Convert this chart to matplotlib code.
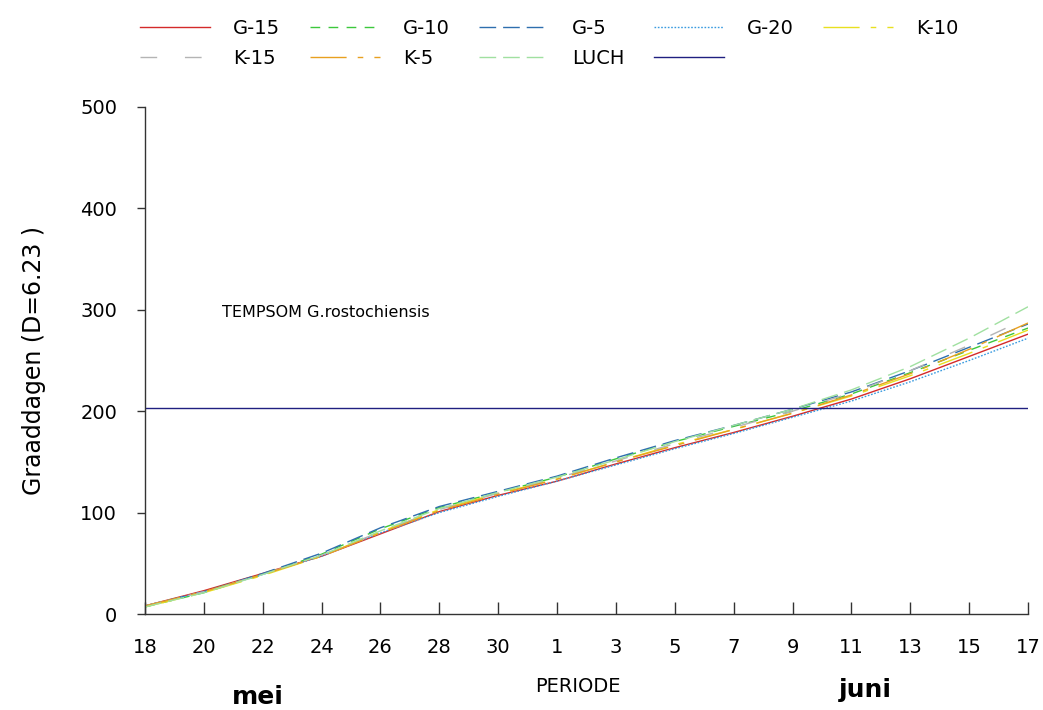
import matplotlib
matplotlib.use("Agg")
import matplotlib.pyplot as plt

plt.rcParams['font.family'] = ['DejaVu Sans']

# Days since 18 May (every second day)
days = [0, 2, 4, 6, 8, 10, 12, 14, 16, 18, 20, 22, 24, 26, 28, 30]
tick_labels = ['18', '20', '22', '24', '26', '28', '30', '1', '3', '5', '7', '9', '11', '13', '15', '17']

g15 = [8, 23, 40, 57, 79, 101, 117, 131, 148, 164, 179, 195, 212, 232, 254, 276]
g10 = [7, 21, 39, 59, 84, 105, 120, 135, 153, 170, 185, 200, 217, 238, 260, 282]
g5 = [8, 22, 40, 60, 85, 106, 121, 136, 154, 171, 186, 202, 219, 240, 263, 286]
g20 = [8, 22, 39, 57, 80, 100, 116, 131, 147, 163, 178, 194, 210, 229, 250, 272]
k10 = [7, 21, 38, 57, 81, 103, 119, 133, 150, 167, 182, 198, 215, 235, 257, 280]
k15 = [8, 22, 39, 58, 81, 103, 119, 134, 151, 168, 184, 200, 218, 240, 265, 292]
k5 = [8, 22, 39, 57, 80, 102, 118, 133, 150, 166, 182, 198, 216, 237, 261, 287]
luch = [7, 21, 39, 58, 82, 104, 120, 135, 152, 170, 186, 202, 221, 244, 272, 303]
threshold = 203

series = [
    ('G-15', g15, '#d42a2a', '-', None),
    ('G-10', g10, '#3cc83c', '--', (7, 6)),
    ('G-5', g5, '#2e6fae', '--', (12, 5)),
    ('G-20', g20, '#3a9be0', ':', (1.2, 1.2)),
    ('K-10', k10, '#e8e020', '--', (26, 8, 4, 8)),
    ('K-15', k15, '#b4b4b4', '--', (12, 20)),
    ('K-5', k5, '#e8a020', '--', (26, 8, 4, 8)),
    ('LUCH', luch, '#a0e0a0', '--', (12, 5)),
]

fig = plt.figure(figsize=(10.43, 7.10), dpi=100)
ax = fig.add_axes([145/1043, 96/710, 883/1043, 507/710])

handles = {}
for name, vals, col, ls, dash in series:
    ln, = ax.plot(days, vals, color=col, lw=1.0, linestyle=ls)
    if dash is not None:
        ln.set_dashes(dash)
    handles[name] = ln

hl, = ax.plot([days[0], days[-1]], [threshold, threshold], color='#202080', lw=1.0)

ax.text(2.6, 297, 'TEMPSOM G.rostochiensis', fontsize=11.5, va='center', ha='left')

ax.set_xlim(0, 30)
ax.set_ylim(0, 500)
ax.set_xticks(days)
ax.set_xticklabels(tick_labels, fontsize=14)
ax.set_yticks([0, 100, 200, 300, 400, 500])
ax.set_yticklabels(['0', '100', '200', '300', '400', '500'], fontsize=14)
ax.tick_params(axis='x', direction='in', length=9, pad=17, color='#333333', width=1)
ax.tick_params(axis='y', direction='out', length=6, pad=14, color='#333333', width=1)
for s in ['top', 'right']:
    ax.spines[s].set_visible(False)
for s in ['left', 'bottom']:
    ax.spines[s].set_color('#333333')
    ax.spines[s].set_linewidth(1.0)

ax.set_ylabel('Graaddagen (D=6.23 )', fontsize=17)
ax.yaxis.set_label_coords(-0.112, 0.5)

fig.text(578/1043, 1 - 687/710, 'PERIODE', fontsize=14, ha='center', va='center')
fig.text(258/1043, 1 - 697/710, 'mei', fontsize=18, ha='center', va='center',
         fontweight='bold')
fig.text(865/1043, 1 - 690/710, 'juni', fontsize=18, ha='center', va='center',
         fontweight='bold')

order = ['G-15', 'K-15', 'G-10', 'K-5', 'G-5', 'LUCH', 'G-20', '', 'K-10']
hs = []
ls_ = []
for n in order:
    hs.append(hl if n == '' else handles[n])
    ls_.append(n)
leg = fig.legend(hs, ls_, ncol=5, loc='upper left', bbox_to_anchor=(140/1043, 1 - 19/710),
                 frameon=False, fontsize=14, handlelength=3.6, handletextpad=1.2,
                 columnspacing=1.5, labelspacing=0.55, borderaxespad=0, borderpad=0)

fig.savefig('out.png', dpi=100)
